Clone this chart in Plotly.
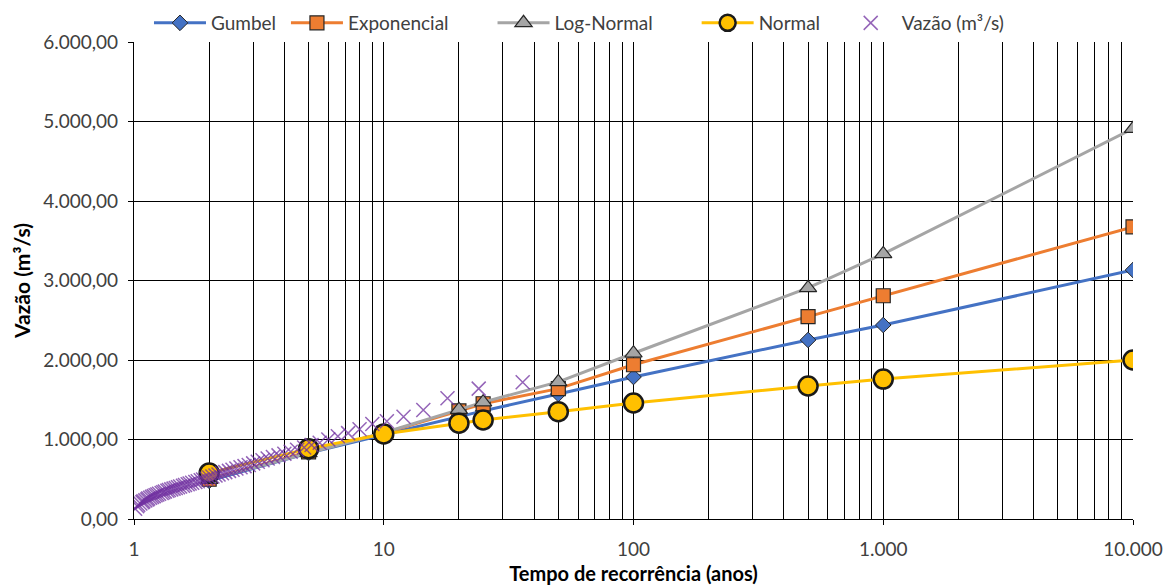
import plotly.graph_objects as go

# Return periods (years) for the fitted distributions
T_fit = [2, 5, 10, 20, 25, 50, 100, 500, 1000, 10000]

gumbel = [480, 830, 1060, 1290, 1360, 1572, 1786, 2252, 2440, 3132]
exponencial = [500, 845, 1080, 1360, 1450, 1640, 1940, 2545, 2808, 3675]
log_normal = [495, 830, 1085, 1375, 1470, 1725, 2085, 2906, 3335, 4910]
normal = [579, 885, 1069, 1205, 1245, 1350, 1459, 1673, 1760, 2000]

# Observed flows with their empirical return periods
T_obs = [36.0, 24.0, 18.0, 14.4, 12.0, 10.29, 9.0, 8.0, 7.2, 6.55,
         6.0, 5.54, 5.14, 4.8, 4.5, 4.24, 4.0, 3.79, 3.6, 3.43,
         3.27, 3.13, 3.0, 2.88, 2.77, 2.67, 2.57, 2.48, 2.4, 2.32,
         2.25, 2.18, 2.12, 2.06, 2.0, 1.95, 1.89, 1.85, 1.8, 1.76,
         1.71, 1.67, 1.64, 1.6, 1.57, 1.53, 1.5, 1.47, 1.44, 1.41,
         1.38, 1.36, 1.33, 1.31, 1.29, 1.26, 1.24, 1.22, 1.2, 1.18,
         1.16, 1.14, 1.13, 1.11, 1.09, 1.08, 1.06, 1.04, 1.03, 1.01]
Q_obs = [1720, 1640, 1520, 1370, 1285, 1230, 1195, 1130, 1080, 1040,
         1000, 960, 930, 900, 870, 845, 820, 800, 780, 760,
         740, 720, 700, 680, 665, 650, 635, 620, 605, 590,
         575, 560, 548, 535, 522, 510, 498, 487, 476, 466,
         456, 446, 436, 427, 418, 409, 400, 391, 382, 373,
         364, 355, 346, 337, 328, 318, 308, 298, 288, 278,
         268, 257, 246, 234, 222, 210, 196, 180, 162, 130]

series_names = ["Gumbel", "Exponencial", "Log-Normal", "Normal", "Vazão (m³/s)"]

x_tickvals = [1, 10, 100, 1000, 10000]
x_ticktext = ["1", "10", "100", "1.000", "10.000"]
y_tickvals = [0, 1000, 2000, 3000, 4000, 5000, 6000]
y_ticktext = ["0,00", "1.000,00", "2.000,00", "3.000,00", "4.000,00", "5.000,00", "6.000,00"]
x_minor = [m * d for d in (1, 10, 100, 1000) for m in range(2, 10)]

FONT = "Lato, 'Open Sans', sans-serif"
OUT = "#262626"
PAD = "\u00a0"

def pad(name, n):
    return name + PAD * n

fig = go.Figure()
fig.add_trace(go.Scatter(
    x=T_fit, y=gumbel, name=pad(series_names[0], 1), mode="lines+markers",
    line=dict(color="#4472C4", width=3),
    marker=dict(symbol="diamond", size=12, color="#4472C4", line=dict(color=OUT, width=1))))
fig.add_trace(go.Scatter(
    x=T_fit, y=exponencial, name=pad(series_names[1], 8), mode="lines+markers",
    line=dict(color="#ED7D31", width=3),
    marker=dict(symbol="square", size=14, color="#ED7D31", line=dict(color=OUT, width=1.2))))
fig.add_trace(go.Scatter(
    x=T_fit, y=log_normal, name=pad(series_names[2], 8), mode="lines+markers",
    line=dict(color="#A5A5A5", width=3),
    marker=dict(symbol="triangle-up", size=15, color="#A5A5A5", line=dict(color=OUT, width=1.2))))
fig.add_trace(go.Scatter(
    x=T_fit, y=normal, name=pad(series_names[3], 3), mode="lines+markers",
    line=dict(color="#FFC000", width=3),
    marker=dict(symbol="circle", size=19, color="#FFC000", line=dict(color="#1a1a1a", width=2.5))))
fig.add_trace(go.Scatter(
    x=T_obs, y=Q_obs, name=series_names[4], mode="markers",
    marker=dict(symbol="x-thin-open", size=14, color="rgba(112,48,160,0.75)",
                line=dict(color="rgba(112,48,160,0.75)", width=1.5))))

fig.update_layout(
    width=1166, height=585,
    margin=dict(l=134, r=33, t=42, b=66, autoexpand=False),
    paper_bgcolor="white", plot_bgcolor="white",
    font=dict(family=FONT, size=18, color="#404040"),
    legend=dict(orientation="h", x=0.015, xanchor="left", y=1.0, yanchor="bottom",
                font=dict(size=19, color="#404040"), itemwidth=52,
                bgcolor="rgba(0,0,0,0)"),
    showlegend=True,
)
fig.update_xaxes(
    type="log", range=[0, 4], automargin=False,
    tickvals=x_tickvals, ticktext=x_ticktext,
    showgrid=True, gridcolor="black", gridwidth=1.3,
    minor=dict(tickvals=x_minor, showgrid=True, gridcolor="black", gridwidth=1.3, ticks=""),
    ticks="outside", ticklen=5, tickcolor="black",
    showline=True, linecolor="black", linewidth=1.3,
    zeroline=False, ticklabelstandoff=8,
    tickfont=dict(size=19, color="#404040"),
    title=dict(text="<b>Tempo de recorrência (anos)</b>", font=dict(size=20, color="black"), standoff=9),
)
fig.update_yaxes(
    range=[0, 6000], automargin=False,
    tickvals=y_tickvals, ticktext=y_ticktext,
    showgrid=True, gridcolor="black", gridwidth=1.3,
    ticks="outside", ticklen=5, tickcolor="black",
    showline=True, linecolor="black", linewidth=1.3,
    zeroline=False, ticklabelstandoff=6,
    tickfont=dict(size=19, color="#404040"),
    title=dict(text="<b>Vazão (m³/s)</b>", font=dict(size=21, color="black"), standoff=6),
)

fig.write_html("out.html")
